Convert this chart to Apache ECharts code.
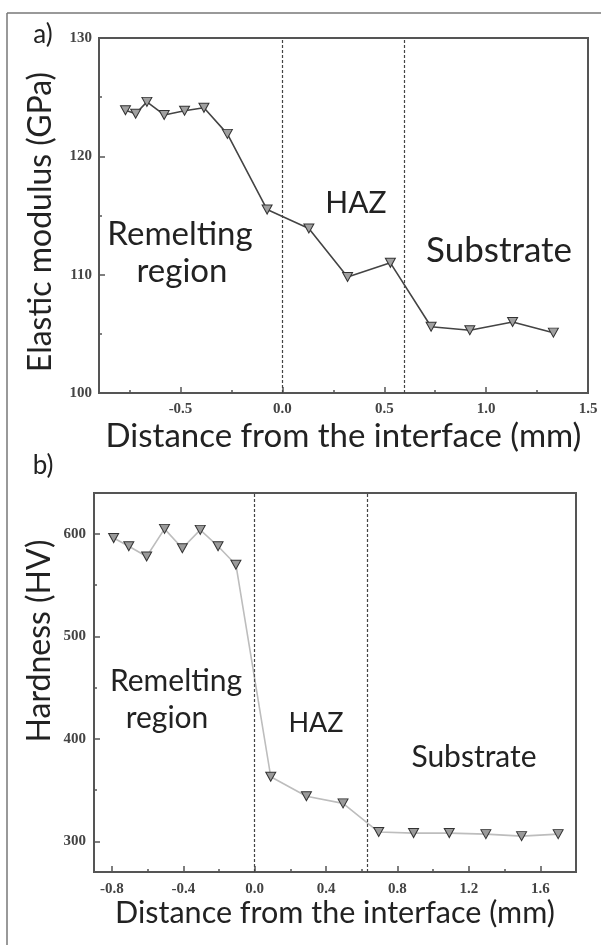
<!DOCTYPE html>
<html>
<head>
<meta charset="utf-8">
<script src="https://cdn.jsdelivr.net/npm/echarts@6/dist/echarts.min.js"></script>
<style>
html, body { margin: 0; padding: 0; background: #fff; }
#main { width: 601px; height: 945px; }
</style>
</head>
<body>
<div id="main"></div>
<script>
// a) elastic modulus
var modX = [-0.77, -0.72, -0.665, -0.58, -0.48, -0.385, -0.27, -0.075, 0.13, 0.32, 0.53, 0.73, 0.92, 1.13, 1.33];
var modY = [123.9, 123.6, 124.6, 123.5, 123.85, 124.1, 121.9, 115.5, 113.9, 109.8, 111.0, 105.6, 105.3, 106.0, 105.1];
var modZones = [0, 0.6];
var modXLabels = [-0.5, 0, 0.5, 1.0, 1.5];
var modXMinor = [-0.75, -0.25, 0.25, 0.75, 1.25];
var modYMinor = [105, 115, 125];

// b) hardness
var hvX = [-0.79, -0.705, -0.605, -0.505, -0.405, -0.305, -0.205, -0.105, 0.09, 0.29, 0.495, 0.695, 0.89, 1.09, 1.295, 1.495, 1.7];
var hvY = [596, 588, 578, 605, 586, 604, 588, 570, 363, 344, 337, 309, 308, 308, 307, 305, 307];
var hvZones = [0, 0.63];
var hvXLabels = [-0.8, -0.4, 0, 0.4, 0.8, 1.2, 1.6];
var hvXMinor = [-0.6, -0.2, 0.2, 0.6, 1.0, 1.4];
var hvYLabels = [300, 400, 500, 600];
var hvYMinor = [350, 450, 550];

var chart = echarts.init(document.getElementById('main'));

var axisColor = '#555';
var labelFont = { fontFamily: 'Liberation Serif', fontWeight: 'bold', fontSize: 15, color: '#444' };
var titleFont = 'Lato';

function pairs(xs, ys) {
    return xs.map(function (x, i) { return [x, ys[i]]; });
}

function mainX(grid, min, max, labels, margin, name, nameSize, nameGap) {
    return {
        type: 'value', gridIndex: grid, min: min, max: max, position: 'bottom',
        splitLine: { show: false },
        axisLine: { show: true, onZero: false, lineStyle: { color: axisColor, width: 2 } },
        axisTick: { show: true, inside: true, length: 6, customValues: labels, lineStyle: { color: axisColor, width: 1.5 } },
        axisLabel: Object.assign({ customValues: labels, margin: margin, formatter: function (v) { return v.toFixed(1); } }, labelFont),
        name: name, nameLocation: 'middle', nameGap: nameGap,
        nameTextStyle: { fontFamily: titleFont, fontSize: nameSize, color: '#222' }
    };
}

function minorX(grid, min, max, vals) {
    return {
        type: 'value', gridIndex: grid, min: min, max: max, position: 'bottom', offset: 0,
        splitLine: { show: false }, axisLabel: { show: false },
        axisLine: { show: false, onZero: false },
        axisTick: { show: true, inside: true, length: 3, customValues: vals, lineStyle: { color: axisColor, width: 1.5 } }
    };
}

function minorY(grid, min, max, vals) {
    return {
        type: 'value', gridIndex: grid, min: min, max: max, position: 'left', offset: 0,
        splitLine: { show: false }, axisLabel: { show: false },
        axisLine: { show: false, onZero: false },
        axisTick: { show: true, inside: true, length: 3, customValues: vals, lineStyle: { color: axisColor, width: 1.5 } }
    };
}

function zoneLines(vals) {
    return {
        silent: true, symbol: ['none', 'none'], animation: false,
        label: { show: false },
        lineStyle: { type: [3, 2], color: '#444', width: 1.2 },
        data: vals.map(function (v) { return { xAxis: v }; })
    };
}

function text(str, x, y, size, rot) {
    return {
        type: 'text', x: x, y: y, rotation: rot || 0, silent: true,
        style: { text: str, fill: '#222', font: size + 'px ' + titleFont, align: 'center', verticalAlign: 'middle' }
    };
}

option = {
    animation: false,
    backgroundColor: '#fff',
    grid: [
        { left: 99, top: 38, width: 489, height: 355, show: true, borderColor: axisColor, borderWidth: 2 },
        { left: 94, top: 493, width: 482, height: 379, show: true, borderColor: axisColor, borderWidth: 2 }
    ],
    xAxis: [
        mainX(0, -0.9, 1.5, modXLabels, 9, 'Distance from the interface (mm)', 33, 27),
        minorX(0, -0.9, 1.5, modXMinor),
        mainX(1, -0.9, 1.8, hvXLabels, 10, 'Distance from the interface (mm)', 30.5, 25),
        minorX(1, -0.9, 1.8, hvXMinor)
    ],
    yAxis: [
        {
            type: 'value', gridIndex: 0, min: 100, max: 130, interval: 10,
            splitLine: { show: false },
            axisLine: { show: true, onZero: false, lineStyle: { color: axisColor, width: 2 } },
            axisTick: { show: true, inside: true, length: 6, lineStyle: { color: axisColor, width: 1.5 } },
            axisLabel: Object.assign({ margin: 7 }, labelFont)
        },
        minorY(0, 100, 130, modYMinor),
        {
            type: 'value', gridIndex: 1, min: 270, max: 640,
            splitLine: { show: false },
            axisLine: { show: true, onZero: false, lineStyle: { color: axisColor, width: 2 } },
            axisTick: { show: true, inside: true, length: 6, customValues: hvYLabels, lineStyle: { color: axisColor, width: 1.5 } },
            axisLabel: Object.assign({ margin: 8, customValues: hvYLabels }, labelFont)
        },
        minorY(1, 270, 640, hvYMinor)
    ],
    series: [
        {
            type: 'line', xAxisIndex: 0, yAxisIndex: 0,
            data: pairs(modX, modY),
            symbol: 'triangle', symbolRotate: 180, symbolSize: [10, 9],
            lineStyle: { color: '#444', width: 1.6 },
            itemStyle: { color: '#a0a0a0', borderColor: '#333', borderWidth: 1 },
            markLine: zoneLines(modZones)
        },
        {
            type: 'line', xAxisIndex: 2, yAxisIndex: 2,
            data: pairs(hvX, hvY),
            symbol: 'triangle', symbolRotate: 180, symbolSize: [10, 9],
            lineStyle: { color: '#bdbdbd', width: 1.6 },
            itemStyle: { color: '#9a9a9a', borderColor: '#333', borderWidth: 1 },
            markLine: zoneLines(hvZones)
        }
    ],
    graphic: [
        { type: 'line', silent: true, shape: { x1: 7, y1: 13, x2: 601, y2: 13 }, style: { stroke: '#777', lineWidth: 1.5 } },
        { type: 'line', silent: true, shape: { x1: 7, y1: 13, x2: 7, y2: 945 }, style: { stroke: '#777', lineWidth: 1.5 } },
        text('a)', 43, 35, 26),
        text('b)', 43, 466, 26),
        text('Elastic modulus (GPa)', 41, 222, 32, Math.PI / 2),
        text('Hardness (HV)', 40, 641, 32, Math.PI / 2),
        text('Remelting', 180, 234, 33),
        text('region', 182, 271, 33),
        text('HAZ', 356, 203, 30),
        text('Substrate', 499, 251, 35),
        text('Remelting', 176, 681, 30),
        text('region', 167, 718, 30),
        text('HAZ', 316, 723, 27),
        text('Substrate', 474, 757, 30)
    ]
};

chart.setOption(option);
</script>
</body>
</html>
